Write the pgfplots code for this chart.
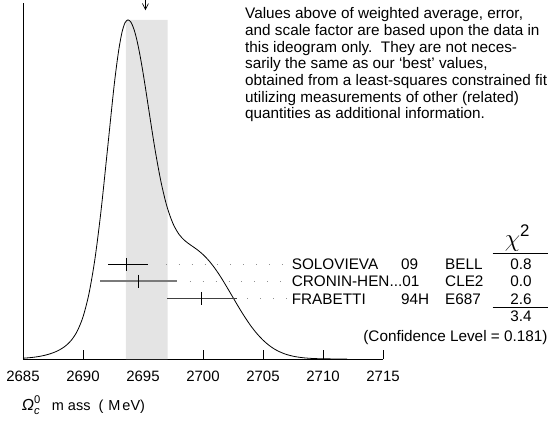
\documentclass[border=0pt]{standalone}
\usepackage{fontspec}
\setmainfont{Liberation Sans}
\usepackage{amsmath}
\usepackage{pgfplots}
\pgfplotsset{compat=1.18}

\definecolor{band}{HTML}{E4E4E4}
\definecolor{barC}{HTML}{7A7A7A}
\definecolor{barF}{HTML}{404040}
\definecolor{dotc}{HTML}{909090}

\newcommand{\txt}{\fontsize{15.3}{16}\selectfont}

\begin{document}
\begin{tikzpicture}
\path[use as bounding box] (-23pt,-65pt) rectangle (525pt,359pt);
\begin{axis}[
    scale only axis,
    width=360pt, height=356pt,
    xmin=2685, xmax=2715,
    ymin=0, ymax=356,
    axis lines=left,
    axis line style={-, line width=0.8pt},
    clip=false,
    ytick=\empty,
    xtick={2685,2690,...,2715},
    tick align=inside,
    major tick length=9pt,
    tick style={black, line width=0.8pt},
    xticklabel style={font=\fontsize{15}{15}\selectfont, inner sep=0pt, anchor=base, yshift=-22.7pt},
    /pgf/number format/1000 sep={},
    /pgf/number format/assume math mode=true,
]

% weighted average band
\addplot[fill=band, draw=none] coordinates {
    (2693.58,0) (2693.58,339) (2697.05,339) (2697.05,0)
} \closedcycle;

% ideogram curve
\addplot[black, line width=0.8pt, smooth] coordinates {
    (2685,0.79) (2685.5,1.25) (2686,1.93) (2686.5,2.90) (2687,4.28) (2687.5,6.19)
    (2688,8.85) (2688.5,12.65) (2689,18.36) (2689.5,27.41) (2690,42.09) (2690.5,65.49)
    (2691,100.5) (2691.5,148.0) (2692,205.0) (2692.5,263.1) (2692.75,289.0) (2693,310.6)
    (2693.25,326.7) (2693.5,336.2) (2693.75,339.1) (2694,336.7) (2694.25,329.6)
    (2694.5,318.4) (2694.75,303.7) (2695,286.5) (2695.25,267.6) (2695.5,247.9)
    (2696,209.7) (2696.5,177.1) (2697,152.3) (2697.5,135.4) (2698,124.7) (2698.5,118.2)
    (2699,113.7) (2699.5,109.5) (2700,104.5) (2700.5,98.2) (2701,90.5) (2701.5,81.6)
    (2702,71.7) (2702.5,61.5) (2703,51.3) (2703.5,41.7) (2704,32.9) (2704.5,25.3)
    (2705,18.9) (2705.5,13.7) (2706,9.6) (2706.5,6.6) (2707,4.37) (2707.5,2.82)
    (2708,1.77) (2708.5,1.07) (2709,0.63) (2709.5,0.36) (2710,0.20) (2711,0.06) (2712,0.01)
};

% arrow at the weighted average
\addplot[black, line width=0.7pt] coordinates {(2695.2,359) (2695.2,349.5)};
\addplot[black, line width=0.7pt] coordinates {(2694.95,355.5) (2695.2,349.5) (2695.45,355.5)};

% leader dots
\addplot[dotc, line width=1pt, dash pattern=on 1pt off 11.9pt] coordinates {(2696.9,94.7) (2707.1,94.7)};
\addplot[dotc, line width=1pt, dash pattern=on 1pt off 11.9pt] coordinates {(2698.9,78) (2707.1,78)};
\addplot[dotc, line width=1pt, dash pattern=on 1pt off 11.9pt] coordinates {(2703.7,60.7) (2707.1,60.7)};

% measurements
\addplot[black, mark=|, mark size=6.5pt, mark options={line width=0.9pt},
    error bars/.cd, x dir=both, x explicit, error mark=none,
    error bar style={black, line width=1.1pt}]
    coordinates {(2693.6,94.7) -= (1.53,0) += (1.82,0)};
\addplot[black, mark=|, mark size=6.5pt, mark options={line width=0.9pt},
    error bars/.cd, x dir=both, x explicit, error mark=none,
    error bar style={barC, line width=1.3pt}]
    coordinates {(2694.6,78) +- (3.2,0)};
\addplot[black, mark=|, mark size=6.5pt, mark options={line width=0.9pt},
    error bars/.cd, x dir=both, x explicit, error mark=none,
    error bar style={barF, line width=1.1pt}]
    coordinates {(2699.9,60.7) +- (2.9,0)};
\end{axis}

% explanatory note
\begin{scope}[every node/.style={anchor=base west, inner sep=0pt, font=\txt}]
\node at (222pt,340.3pt) {Values above of weighted average, error,};
\node at (222pt,323.6pt) {and scale factor are based upon the data in};
\node at (222pt,307.0pt) {this ideogram only.\ \ They are not neces-};
\node at (222pt,290.3pt) {sarily the same as our ‘best’ values,};
\node at (222pt,273.6pt) {obtained from a least-squares constrained fit};
\node at (222pt,257.0pt) {utilizing measurements of other (related)};
\node at (222pt,240.3pt) {quantities as additional information.};

% measurement rows
\node at (268.6pt,89.7pt) {SOLOVIEVA};
\node at (378pt,89.7pt) {09};
\node at (422pt,89.7pt) {BELL};
\node at (268.6pt,72.3pt) {CRONIN-HEN...01};
\node at (422pt,72.3pt) {CLE2};
\node at (268.6pt,55.0pt) {FRABETTI};
\node at (378pt,55.0pt) {94H};
\node at (422pt,55.0pt) {E687};
\end{scope}

\begin{scope}[every node/.style={anchor=base, inner sep=0pt, font=\txt}]
\node at (498pt,89.7pt) {0.8};
\node at (498pt,72.3pt) {0.0};
\node at (498pt,55.0pt) {2.6};
\node at (498pt,37.3pt) {3.4};
\end{scope}
\node[anchor=base east, inner sep=0pt, font=\txt] at (524.7pt,17.3pt) {(Confidence Level = 0.181)};
\node[anchor=base, inner sep=0pt, font=\fontsize{24}{24}\selectfont] at (494.5pt,113pt) {$\chi^{\text{2}}$};
\draw[line width=0.8pt] (469.7pt,105.7pt) -- (525pt,105.7pt);
\draw[line width=0.8pt] (469.7pt,51.7pt) -- (525pt,51.7pt);

% axis title
\node[anchor=base west, inner sep=0pt, font=\fontsize{16}{16}\selectfont] at (-1.3pt,-51pt)
    {$\text{\itshape Ω}^{\text{0}}_{\text{\itshape c}}$};
\node[anchor=base west, inner sep=0pt, font=\fontsize{14.5}{16}\selectfont] at (28.7pt,-51pt)
    {m\kern4pt ass\kern8pt(\kern5pt M\kern2pt eV)};
\end{tikzpicture}
\end{document}
